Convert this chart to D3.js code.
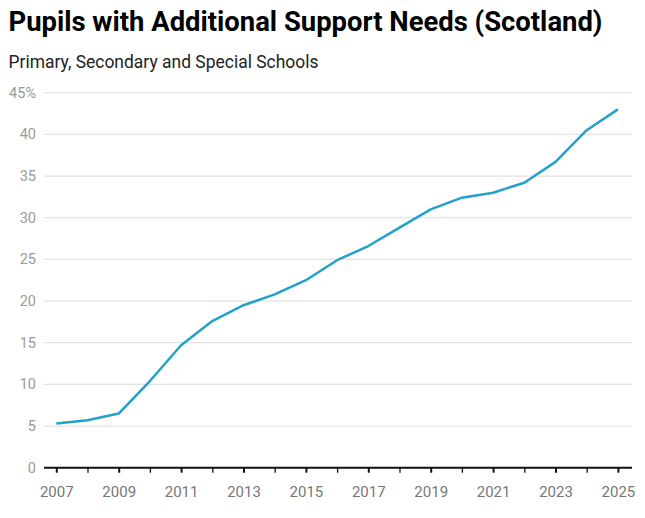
<!DOCTYPE html>
<html>
<head>
<meta charset="utf-8">
<script src="https://cdn.jsdelivr.net/npm/d3@7"></script>
<style>
  html, body { margin: 0; padding: 0; background: #fff; }
  svg { display: block; }
</style>
</head>
<body>
<svg id="chart" width="645" height="518"></svg>
<script>
const years = [2007, 2008, 2009, 2010, 2011, 2012, 2013, 2014, 2015, 2016, 2017, 2018, 2019, 2020, 2021, 2022, 2023, 2024, 2025];
const values = [5.3, 5.7, 6.5, 10.4, 14.7, 17.6, 19.5, 20.8, 22.5, 24.9, 26.6, 28.8, 31.0, 32.4, 33.0, 34.2, 36.7, 40.5, 43.0];
const yTicks = [0, 5, 10, 15, 20, 25, 30, 35, 40, 45];
const xTickLabels = [2007, 2009, 2011, 2013, 2015, 2017, 2019, 2021, 2023, 2025];
const titleText = "Pupils with Additional Support Needs (Scotland)";
const subtitleText = "Primary, Secondary and Special Schools";

const svg = d3.select("#chart");
const plotLeft = 44, plotRight = 632, plotTop = 92.7, plotBottom = 467.7;

const x = d3.scaleLinear().domain([2007, 2025]).range([56.3, 617.9]);
const y = d3.scaleLinear().domain([0, 45]).range([plotBottom, plotTop]);

svg.append("text")
  .attr("x", 8.5).attr("y", 30.5)
  .attr("font-family", "Roboto, sans-serif")
  .attr("font-weight", 700)
  .attr("font-size", 27)
  .attr("textLength", 594)
  .attr("lengthAdjust", "spacingAndGlyphs")
  .attr("fill", "#000")
  .text(titleText);

svg.append("text")
  .attr("x", 8.5).attr("y", 68)
  .attr("font-family", "Roboto, sans-serif")
  .attr("font-size", 17.5)
  .attr("textLength", 310)
  .attr("lengthAdjust", "spacingAndGlyphs")
  .attr("fill", "#222")
  .text(subtitleText);

// gridlines
svg.append("g").selectAll("line")
  .data(yTicks.filter(d => d !== 0))
  .join("line")
  .attr("x1", plotLeft).attr("x2", plotRight)
  .attr("y1", d => y(d)).attr("y2", d => y(d))
  .attr("stroke", "#e3e3e3")
  .attr("stroke-width", 1.2);

// y labels
svg.append("g").selectAll("text")
  .data(yTicks)
  .join("text")
  .attr("x", 36)
  .attr("y", d => y(d))
  .attr("dy", "0.35em")
  .attr("text-anchor", "end")
  .attr("font-family", "Roboto, sans-serif")
  .attr("font-size", 14.5)
  .attr("fill", "#9a9a9a")
  .text(d => d === 45 ? d + "%" : d);

// x axis
const xAxis = d3.axisBottom(x)
  .tickValues(years)
  .tickSize(5)
  .tickFormat(d => xTickLabels.includes(d) ? d : "");
const gx = svg.append("g")
  .attr("transform", `translate(0,${plotBottom})`)
  .call(xAxis);
gx.select(".domain").remove();
gx.selectAll(".tick line")
  .attr("stroke", "#111")
  .attr("stroke-width", d => xTickLabels.includes(d) ? 2 : 1.3);
gx.selectAll(".tick text")
  .attr("font-family", "Roboto, sans-serif")
  .attr("font-size", 15)
  .attr("fill", "#777")
  .attr("y", 29)
  .attr("dy", 0);
gx.append("line")
  .attr("x1", plotLeft).attr("x2", plotRight)
  .attr("y1", 0).attr("y2", 0)
  .attr("stroke", "#111")
  .attr("stroke-width", 2);

// line
const line = d3.line()
  .x((d, i) => x(years[i]))
  .y(d => y(d));
svg.append("path")
  .datum(values)
  .attr("d", line)
  .attr("fill", "none")
  .attr("stroke", "#22a2c9")
  .attr("stroke-width", 2.5)
  .attr("stroke-linejoin", "round");
</script>
</body>
</html>
